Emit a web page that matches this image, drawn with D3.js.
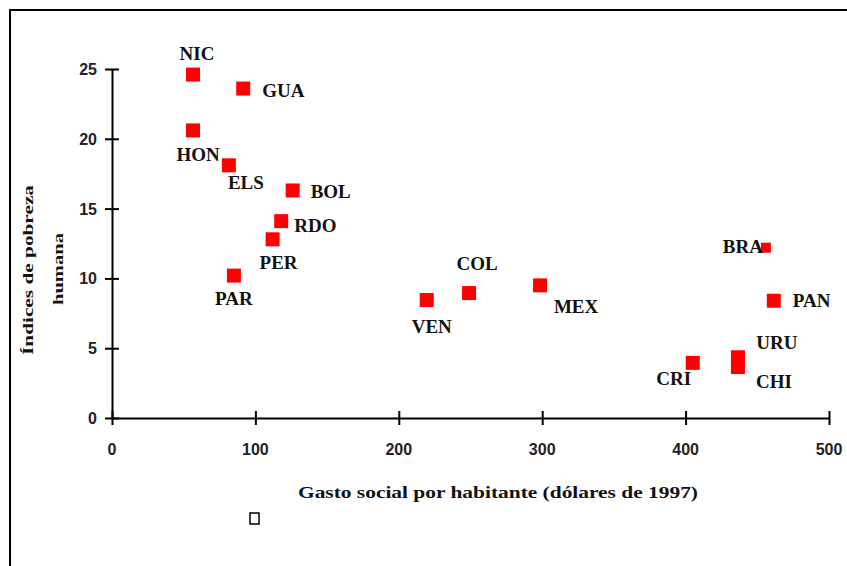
<!DOCTYPE html>
<html>
<head>
<meta charset="utf-8">
<script src="https://cdn.jsdelivr.net/npm/d3@7"></script>
<style>
  html, body { margin: 0; padding: 0; background: #fff; }
  svg { display: block; }
</style>
</head>
<body>
<svg id="chart" width="847" height="566"></svg>
<script>
// ---- Data ----
const countries = ["NIC","GUA","HON","ELS","BOL","RDO","PER","PAR","VEN","COL","MEX","BRA","PAN","CRI","URU","CHI"];
const gastoSocial = [56.5, 91.5, 56.5, 81.5, 126, 118, 112, 85, 219.5, 249, 298.5, 456, 461.5, 405, 436.5, 436.5];
const pobrezaHumana = [24.6, 23.6, 20.6, 18.1, 16.3, 14.1, 12.8, 10.2, 8.45, 8.95, 9.5, 12.2, 8.4, 3.95, 4.35, 3.65];
// label offsets (dx, dy relative to point, text-anchor)
const labelPos = [
  [4, -15, "middle"], [19, 8, "start"], [5, 31, "middle"], [17, 24, "middle"],
  [18, 8, "start"], [13, 11, "start"], [6, 30, "middle"], [0, 29, "middle"],
  [5, 33, "middle"], [8, -23, "middle"], [36, 28, "middle"], [-23, 5, "middle"],
  [19, 6, "start"], [-19, 22, "middle"], [39, -8, "middle"], [36, 21, "middle"]
];
const xTicks = [0, 100, 200, 300, 400, 500];
const yTicks = [0, 5, 10, 15, 20, 25];
const xTitle = "Gasto social por habitante  (dólares de 1997)";
const yTitle = ["Índices de pobreza", "humana"];

// ---- Layout ----
const svg = d3.select("#chart");
const x = d3.scaleLinear().domain([0, 500]).range([112, 829]);
const y = d3.scaleLinear().domain([0, 25]).range([418, 69]);

// outer frame (only top/left visible)
svg.append("rect").attr("x", 10).attr("y", 10).attr("width", 900).attr("height", 700)
  .attr("fill", "none").attr("stroke", "#000").attr("stroke-width", 2);

// axes
const xAxis = svg.append("g").attr("transform", `translate(0,${y(0)})`)
  .call(d3.axisBottom(x).tickValues(xTicks).tickSize(0).tickFormat(""));
xAxis.select(".domain").attr("stroke", "#000").attr("stroke-width", 2);
xAxis.selectAll(".tick").append("line").attr("y1", -7).attr("y2", 7)
  .attr("stroke", "#000").attr("stroke-width", 2);

const yAxis = svg.append("g").attr("transform", `translate(${x(0)},0)`)
  .call(d3.axisLeft(y).tickValues(yTicks).tickSize(0).tickFormat(""));
yAxis.select(".domain").attr("stroke", "#000").attr("stroke-width", 2);
yAxis.selectAll(".tick").append("line").attr("x1", -7).attr("x2", 7)
  .attr("stroke", "#000").attr("stroke-width", 2);

// tick labels
svg.append("g").selectAll("text").data(xTicks).join("text")
  .attr("x", d => x(d)).attr("y", 455)
  .attr("text-anchor", "middle")
  .attr("font-family", "Liberation Sans, Arial, sans-serif")
  .attr("font-weight", "bold").attr("font-size", 16)
  .attr("fill", "#222")
  .text(d => d);
svg.append("g").selectAll("text").data(yTicks).join("text")
  .attr("x", 97).attr("y", d => y(d) + 6)
  .attr("text-anchor", "end")
  .attr("font-family", "Liberation Sans, Arial, sans-serif")
  .attr("font-weight", "bold").attr("font-size", 16)
  .attr("fill", "#222")
  .text(d => d);

// axis titles
svg.append("text").attr("x", 498).attr("y", 498)
  .attr("text-anchor", "middle")
  .attr("font-family", "Liberation Serif, Times New Roman, serif")
  .attr("font-weight", "bold").attr("font-size", 16)
  .attr("textLength", 400).attr("lengthAdjust", "spacingAndGlyphs")
  .attr("fill", "#111")
  .text(xTitle);

const yT = svg.append("g");
yT.append("text").attr("transform", "translate(33,270) rotate(-90)")
  .attr("text-anchor", "middle")
  .attr("font-family", "Liberation Serif, Times New Roman, serif")
  .attr("font-weight", "bold").attr("font-size", 15)
  .attr("textLength", 170).attr("lengthAdjust", "spacingAndGlyphs")
  .attr("fill", "#111")
  .text(yTitle[0]);
yT.append("text").attr("transform", "translate(63,269) rotate(-90)")
  .attr("text-anchor", "middle")
  .attr("font-family", "Liberation Serif, Times New Roman, serif")
  .attr("font-weight", "bold").attr("font-size", 15)
  .attr("textLength", 72).attr("lengthAdjust", "spacingAndGlyphs")
  .attr("fill", "#111")
  .text(yTitle[1]);

// points
const data = countries.map((c, i) => ({c, gx: gastoSocial[i], py: pobrezaHumana[i], lp: labelPos[i]}));
const sz = 14;
svg.append("g").selectAll("rect").data(data).join("rect")
  .attr("x", d => x(d.gx) - (d.c === "BRA" ? 5 : sz / 2))
  .attr("y", d => y(d.py) - (d.c === "BRA" ? 5 : sz / 2))
  .attr("width", d => d.c === "BRA" ? 10 : sz)
  .attr("height", d => d.c === "BRA" ? 10 : sz)
  .attr("fill", "#ff0000");

// labels
svg.append("g").selectAll("text").data(data).join("text")
  .attr("x", d => x(d.gx) + d.lp[0])
  .attr("y", d => y(d.py) + d.lp[1])
  .attr("text-anchor", d => d.lp[2])
  .attr("font-family", "Liberation Serif, Times New Roman, serif")
  .attr("font-weight", "bold").attr("font-size", 19)
  .attr("fill", "#111")
  .text(d => d.c);

// small hollow legend square
svg.append("rect").attr("x", 250).attr("y", 513).attr("width", 9).attr("height", 11)
  .attr("fill", "#fff").attr("stroke", "#000").attr("stroke-width", 1.5);
</script>
</body>
</html>
